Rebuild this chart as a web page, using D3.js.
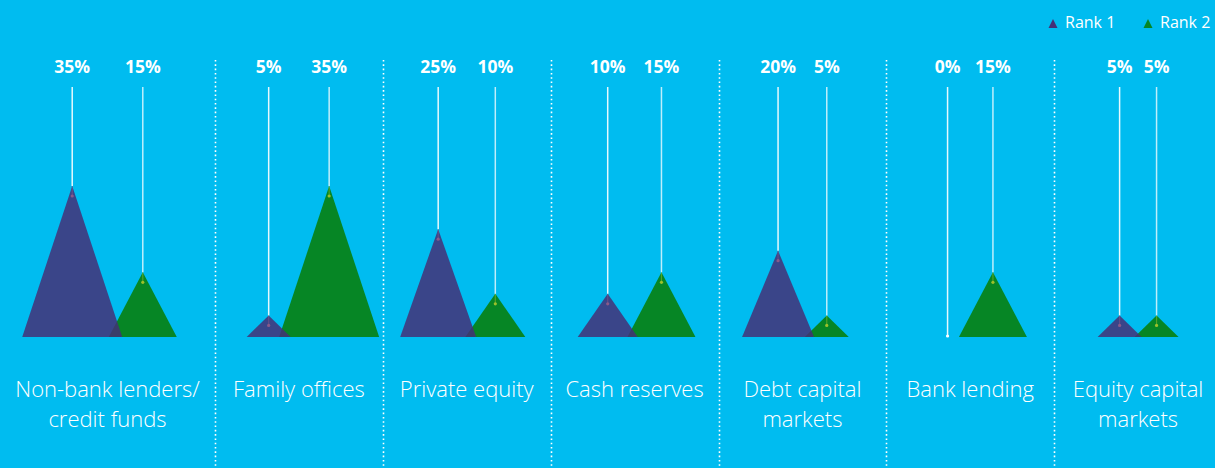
<!DOCTYPE html>
<html>
<head>
<meta charset="utf-8">
<script src="https://cdn.jsdelivr.net/npm/d3@7"></script>
<style>
  body { margin: 0; background: #00bcf0; overflow: hidden; }
  svg { display: block; }
  text { font-family: "Open Sans", "Noto Sans", sans-serif; fill: #fff; }
</style>
</head>
<body>
<script>
var config = {
    width: 1215,
    height: 468,
    baseY: 337,
    topY: 186,
    lineTop: 87,
}

// categories, one label line per entry
var categories = [
    ["Non-bank lenders/", "credit funds"],
    ["Family offices"],
    ["Private equity"],
    ["Cash reserves"],
    ["Debt capital", "markets"],
    ["Bank lending"],
    ["Equity capital", "markets"],
]

var rank1 = [35, 5, 25, 10, 20, 0, 5]
var rank2 = [15, 35, 10, 15, 5, 15, 5]

var seriesNames = ["Rank 1", "Rank 2"]
var colors = {"Rank 1": "#443077", "Rank 2": "#068625"}

var svg = d3.select("body").append("svg")
    .attr("width", config.width)
    .attr("height", config.height)

// group centres (first group is wider because of its label)
var x = d3.scaleLinear()
    .domain([-0.5, 0.5, categories.length - 0.5])
    .range([0, 215, 1222])

var y = d3.scaleLinear()
    .domain([0, 35])
    .range([config.baseY, config.topY])

// base width of a triangle
var w = d3.scaleLinear()
    .domain([0, 5, 10, 15, 25, 35])
    .range([40, 44, 60, 68, 76, 100])

var groups = categories.map(function(c, i) {
    var spacing = 0.84 * (w(rank1[i]) + w(rank2[i])) / 2;
    return {
        i: i,
        label: c,
        items: [
            {series: "Rank 2", value: rank2[i], x: x(i) + spacing / 2},
            {series: "Rank 1", value: rank1[i], x: x(i) - spacing / 2},
        ]
    }
})

// dotted separators
svg.append("g")
    .selectAll("line")
    .data(d3.range(categories.length - 1))
    .enter()
    .append("line")
    .attr("x1", function(d) { return Math.round(x(d + 0.5)) + 0.5; })
    .attr("x2", function(d) { return Math.round(x(d + 0.5)) + 0.5; })
    .attr("y1", 60)
    .attr("y2", config.height)
    .attr("stroke", "#fff")
    .attr("stroke-width", 1.6)
    .attr("stroke-dasharray", "1.6 2.7")

var g = svg.append("g")
    .selectAll("g")
    .data(groups)
    .enter()
    .append("g")

function tri(d) {
    var hw = w(d.value) / 2;
    return "M" + (d.x - hw) + "," + config.baseY +
        "L" + d.x + "," + y(d.value) +
        "L" + (d.x + hw) + "," + config.baseY + "Z";
}

// triangles (green first, blue on top, slightly see-through)
g.selectAll("path")
    .data(function(d) { return d.items.filter(function(e) { return e.value > 0; }); })
    .enter()
    .append("path")
    .attr("d", tri)
    .attr("fill", function(d) { return colors[d.series]; })
    .attr("fill-opacity", function(d) { return d.series == "Rank 1" ? 0.85 : 1; })

// drop lines
g.selectAll("line.drop")
    .data(function(d) { return d.items; })
    .enter()
    .append("line")
    .attr("class", "drop")
    .attr("x1", function(d) { return d.x; })
    .attr("x2", function(d) { return d.x; })
    .attr("y1", config.lineTop)
    .attr("y2", function(d) { return y(d.value); })
    .attr("stroke", "#fff")
    .attr("stroke-opacity", function(d) { return d.series == "Rank 1" ? 0.9 : 0.75; })
    .attr("stroke-width", 1.5)

g.selectAll("line.tail")
    .data(function(d) { return d.items.filter(function(e) { return e.value > 0; }); })
    .enter()
    .append("line")
    .attr("class", "tail")
    .attr("x1", function(d) { return d.x; })
    .attr("x2", function(d) { return d.x; })
    .attr("y1", function(d) { return y(d.value); })
    .attr("y2", function(d) { return y(d.value) + 10; })
    .attr("stroke", function(d) { return d.series == "Rank 1" ? "#8a5a8a" : "#9cc02a"; })
    .attr("stroke-opacity", 0.5)
    .attr("stroke-width", 1.2)

g.selectAll("circle")
    .data(function(d) { return d.items; })
    .enter()
    .append("circle")
    .attr("cx", function(d) { return d.x; })
    .attr("cy", function(d) { return d.value > 0 ? y(d.value) + 10 : y(0) - 1; })
    .attr("r", 1.6)
    .attr("fill", function(d) {
        if (d.value == 0) return "#fff";
        return d.series == "Rank 1" ? "#8a5a8a" : "#9cc02a";
    })

// value labels
g.selectAll("text.val")
    .data(function(d) { return d.items; })
    .enter()
    .append("text")
    .attr("class", "val")
    .attr("x", function(d) { return d.x; })
    .attr("y", 73)
    .attr("text-anchor", "middle")
    .attr("font-size", 17.5)
    .attr("font-weight", "bold")
    .text(function(d) { return d.value + "%"; })

// category labels
g.append("text")
    .attr("text-anchor", "middle")
    .attr("font-size", 22)
    .attr("font-weight", 300)
    .attr("fill", "#eef9fd")
    .selectAll("tspan")
    .data(function(d) { return d.label.map(function(l, k) { return {x: x(d.i), t: l, k: k}; }); })
    .enter()
    .append("tspan")
    .attr("x", function(d) { return d.x; })
    .attr("y", function(d) { return 397 + d.k * 30; })
    .text(function(d) { return d.t; })

// legend
var legend = svg.append("g")
    .selectAll("g")
    .data(seriesNames)
    .enter()
    .append("g")
    .attr("transform", function(d, i) { return "translate(" + (1053 + i * 95) + ",0)"; })

legend.append("path")
    .attr("d", "M-4.5,28L0,19L4.5,28Z")
    .attr("fill", function(d) { return colors[d]; })

legend.append("text")
    .attr("x", 12)
    .attr("y", 28)
    .attr("font-size", 16)
    .attr("fill", "#e6f7fd")
    .text(function(d) { return d; })
</script>
</body>
</html>
